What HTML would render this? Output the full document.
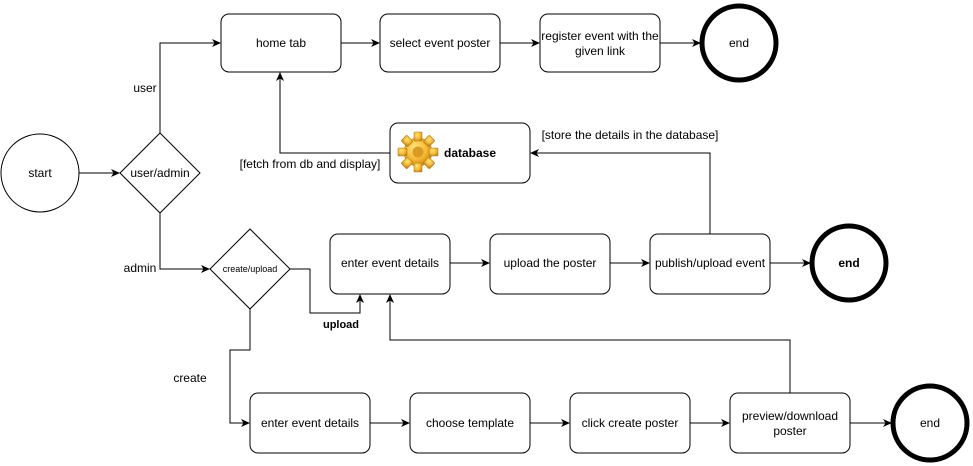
<!DOCTYPE html>
<html><head><meta charset="utf-8"><style>
html,body{margin:0;padding:0;background:#fff;}
svg{display:block;font-family:"Liberation Sans",Arial,sans-serif;}
</style></head><body>
<svg width="973" height="466" viewBox="0 0 973 466" xmlns="http://www.w3.org/2000/svg">
<defs>
<marker id="a" markerWidth="10" markerHeight="10" refX="8" refY="5" orient="auto" markerUnits="userSpaceOnUse">
<path d="M0,1 L9,5 L0,9 L2.5,5 Z" fill="#000"/>
</marker>
<radialGradient id="g" cx="40%" cy="35%" r="70%">
<stop offset="0" stop-color="#ffe680"/><stop offset="0.6" stop-color="#f5b82e"/><stop offset="1" stop-color="#c9851a"/>
</radialGradient>
</defs>
<g fill="none" stroke="#000" stroke-width="1">
<!-- shapes -->
<circle cx="40" cy="173" r="39" fill="#fff"/>
<polygon points="160,133 200,173 160,213 120,173" fill="#fff"/>
<polygon points="250,229 290,269 250,309 210,269" fill="#fff"/>
<rect x="221" y="14" width="120" height="58" rx="8" fill="#fff"/>
<rect x="380" y="14" width="120" height="58" rx="8" fill="#fff"/>
<rect x="540" y="14" width="120" height="58" rx="8" fill="#fff"/>
<rect x="390" y="123" width="140" height="60" rx="8" fill="#fff"/>
<rect x="330" y="234" width="120" height="60" rx="8" fill="#fff"/>
<rect x="490" y="234" width="120" height="60" rx="8" fill="#fff"/>
<rect x="650" y="234" width="120" height="60" rx="8" fill="#fff"/>
<rect x="250" y="393" width="120" height="60" rx="8" fill="#fff"/>
<rect x="410" y="393" width="120" height="60" rx="8" fill="#fff"/>
<rect x="570" y="393" width="120" height="60" rx="8" fill="#fff"/>
<rect x="730" y="393" width="120" height="60" rx="8" fill="#fff"/>
<circle cx="739" cy="43" r="37" stroke-width="5" fill="#fff"/>
<circle cx="849" cy="263" r="37" stroke-width="5" fill="#fff"/>
<circle cx="930" cy="423" r="37" stroke-width="5" fill="#fff"/>
<!-- connectors -->
<path d="M79,173 H119" marker-end="url(#a)"/>
<path d="M160,133 V43 H220" marker-end="url(#a)"/>
<path d="M160,213 V269 H209" marker-end="url(#a)"/>
<path d="M290,269 H310 V313 H360 V295" marker-end="url(#a)"/>
<path d="M250,309 V350 H230 V423 H249" marker-end="url(#a)"/>
<path d="M341,43 H379" marker-end="url(#a)"/>
<path d="M500,43 H539" marker-end="url(#a)"/>
<path d="M660,43 H700" marker-end="url(#a)"/>
<path d="M450,263 H489" marker-end="url(#a)"/>
<path d="M610,263 H649" marker-end="url(#a)"/>
<path d="M770,263 H810" marker-end="url(#a)"/>
<path d="M370,423 H409" marker-end="url(#a)"/>
<path d="M530,423 H569" marker-end="url(#a)"/>
<path d="M690,423 H729" marker-end="url(#a)"/>
<path d="M850,423 H891" marker-end="url(#a)"/>
<path d="M790,393 V340 H390 V295" marker-end="url(#a)"/>
<path d="M710,234 V153 H531" marker-end="url(#a)"/>
<path d="M390,153 H280 V73" marker-end="url(#a)"/>
</g>
<!-- gear -->
<g transform="translate(418,152)">
<g fill="url(#g)" stroke="#b87a15" stroke-width="0.6">
<circle r="14"/>
<rect x="-4" y="-20" width="8" height="9" rx="1"/>
<rect x="-4" y="11" width="8" height="9" rx="1"/>
<rect x="-20" y="-4" width="9" height="8" rx="1"/>
<rect x="11" y="-4" width="9" height="8" rx="1"/>
<rect x="-4" y="-20" width="8" height="9" rx="1" transform="rotate(45)"/>
<rect x="-4" y="11" width="8" height="9" rx="1" transform="rotate(45)"/>
<rect x="-20" y="-4" width="9" height="8" rx="1" transform="rotate(45)"/>
<rect x="11" y="-4" width="9" height="8" rx="1" transform="rotate(45)"/>
</g>
<circle r="5.5" fill="#d99a26"/>
</g>
<g font-size="12" fill="#000" text-anchor="middle">
<text x="40" y="177">start</text>
<text x="160" y="177">user/admin</text>
<text x="250" y="272" font-size="9">create/upload</text>
<text x="281" y="47">home tab</text>
<text x="440" y="47">select event poster</text>
<text x="600" y="40">register event with the</text>
<text x="600" y="55">given link</text>
<text x="739" y="47">end</text>
<text x="470" y="157" font-weight="bold">database</text>
<text x="390" y="267">enter event details</text>
<text x="550" y="267">upload the poster</text>
<text x="710" y="267">publish/upload event</text>
<text x="849" y="267" font-weight="bold">end</text>
<text x="310" y="427">enter event details</text>
<text x="470" y="427">choose template</text>
<text x="630" y="427">click create poster</text>
<text x="790" y="420">preview/download</text>
<text x="790" y="435">poster</text>
<text x="930" y="427">end</text>
<text x="145" y="92">user</text>
<text x="140" y="272">admin</text>
<text x="341" y="328" font-size="11" font-weight="bold">upload</text>
<text x="190" y="382">create</text>
<text x="630" y="139">[store the details in the database]</text>
<text x="310" y="168">[fetch from db and display]</text>
</g>
</svg>
</body></html>
